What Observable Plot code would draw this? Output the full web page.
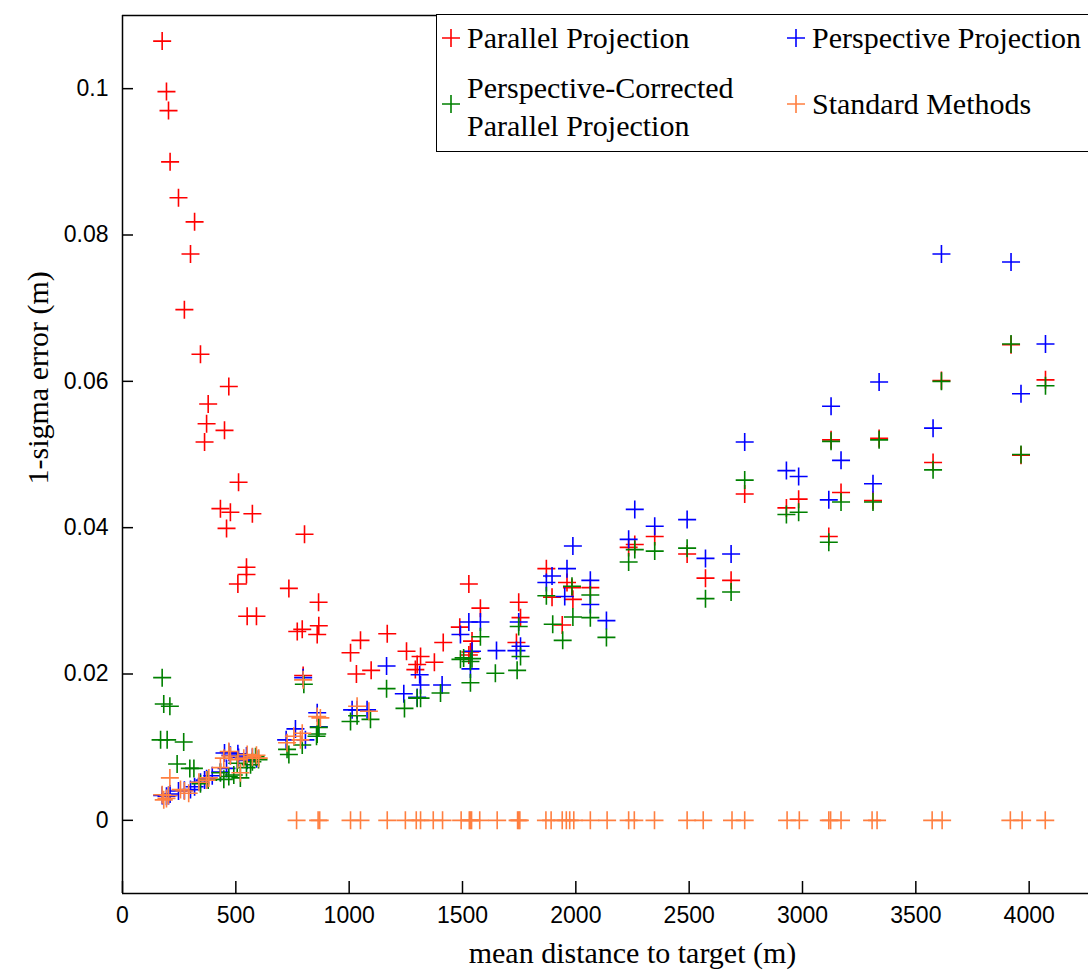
<!DOCTYPE html>
<html>
<head>
<meta charset="utf-8">
<script src="https://cdn.jsdelivr.net/npm/d3@7"></script>
<script src="https://cdn.jsdelivr.net/npm/@observablehq/plot@0.6"></script>
<style>
  body { margin: 0; background: #fff; }
  #wrap { position: relative; width: 1088px; height: 970px; overflow: hidden; background: #fff; }
  #wrap > svg { max-width: none !important; }
  #legendBox { position: absolute; left: 436px; top: 14px; width: 760px; height: 136px;
    border: 1.5px solid #000; background: #fff; }
  .lg { position: absolute; font-family: "Liberation Serif", "Times New Roman", serif; font-size: 30px;
    line-height: 38px; color: #000; white-space: nowrap; }
  .lx { position: absolute; width: 20px; height: 20px; }
</style>
</head>
<body>
<div id="wrap"></div>
<script>
// ---- data ----
const xTicks = [0, 500, 1000, 1500, 2000, 2500, 3000, 3500, 4000];
const yTicks = [0, 0.02, 0.04, 0.06, 0.08, 0.1];
const xLabel = "mean distance to target (m)";
const yLabel = "1-sigma error (m)";
const seriesNames = ["Parallel Projection", "Perspective Projection", "Perspective-Corrected Parallel Projection", "Standard Methods"];
const seriesColors = ["#ff0000", "#0000ff", "#008000", "#ff7f40"];

const parallel = [
  [175,0.1065],[194,0.0996],[203,0.0970],[210,0.0900],[247,0.0851],[318,0.0818],[300,0.0774],[273,0.0698],
  [344,0.0637],[469,0.0593],[378,0.0569],[371,0.0542],[450,0.0533],[362,0.0517],[512,0.0462],[432,0.0426],
  [476,0.0421],[573,0.0419],[459,0.0399],[803,0.0391],[547,0.0346],[547,0.0336],[509,0.0323],[734,0.0317],
  [865,0.0298],[550,0.0279],[591,0.0279],[771,0.0258],[793,0.0261],[866,0.0266],[859,0.0254],[797,0.0198],
  [1006,0.0229],[1032,0.0200],[1050,0.0246],[1097,0.0205],[1168,0.0255],[1253,0.0231],[1292,0.0206],[1300,0.0213],
  [1315,0.0224],[1376,0.0216],[1415,0.0243],[1488,0.0264],[1528,0.0323],[1528,0.0226],[1535,0.0230],[1542,0.0245],
  [1579,0.0290],[1738,0.0243],[1748,0.0298],[1756,0.0277],[1870,0.0344],[1895,0.0305],[1940,0.0267],[1961,0.0325],
  [1983,0.0318],[1987,0.0302],[2064,0.0318],[2233,0.0373],[2260,0.0377],[2348,0.0388],[2491,0.0364],[2572,0.0331],
  [2685,0.0328],[2745,0.0446],[2929,0.0427],[2983,0.0439],[3116,0.0388],[3126,0.0520],[3170,0.0448],[3311,0.0437],
  [3338,0.0522],[3576,0.0489],[3613,0.0601],[3920,0.0650],[3964,0.0499],[4072,0.0602]
];
const perspective = [
  [175,0.0034],[194,0.0033],[203,0.0034],[210,0.0036],[247,0.0040],[273,0.0041],[300,0.0042],[318,0.0046],
  [344,0.0052],[362,0.0055],[371,0.0057],[396,0.0061],[432,0.0066],[450,0.0092],[459,0.0071],[469,0.0093],
  [476,0.0089],[509,0.0091],[512,0.0086],[547,0.0088],[550,0.0082],[573,0.0086],[591,0.0084],
  [722,0.0110],[763,0.0125],[797,0.0195],[807,0.0110],[859,0.0147],[866,0.0128],[1013,0.0151],[1035,0.0151],
  [1079,0.0151],[1165,0.0211],[1241,0.0173],[1311,0.0199],[1315,0.0185],[1300,0.0168],[1410,0.0185],[1491,0.0254],
  [1528,0.0271],[1535,0.0207],[1542,0.0231],[1579,0.0271],[1650,0.0232],[1738,0.0232],[1748,0.0271],[1756,0.0238],
  [1870,0.0325],[1895,0.0334],[1951,0.0306],[1961,0.0344],[1987,0.0375],[2064,0.0328],[2064,0.0295],[2135,0.0273],
  [2233,0.0384],[2260,0.0425],[2348,0.0402],[2491,0.0411],[2572,0.0358],[2685,0.0364],[2745,0.0517],[2929,0.0478],
  [2983,0.0470],[3116,0.0438],[3126,0.0566],[3170,0.0492],[3311,0.0460],[3338,0.0599],[3576,0.0536],[3613,0.0774],
  [3920,0.0763],[3964,0.0583],[4072,0.0651]
];
const corrected = [
  [175,0.0195],[182,0.0159],[209,0.0156],[168,0.0110],[197,0.0110],[270,0.0107],[241,0.0077],[297,0.0071],[315,0.0071],
  [344,0.0050],[378,0.0055],[432,0.0065],[447,0.0056],[469,0.0060],[491,0.0062],[506,0.0078],[520,0.0058],
  [547,0.0072],[565,0.0076],[573,0.0080],[587,0.0087],[600,0.0083],
  [734,0.0090],[726,0.0097],[793,0.0103],[800,0.0186],[856,0.0115],[859,0.0118],[866,0.0127],[1006,0.0135],
  [1035,0.0143],[1094,0.0138],[1165,0.0180],[1244,0.0153],[1300,0.0167],[1315,0.0167],[1403,0.0174],[1491,0.0220],
  [1505,0.0222],[1535,0.0217],[1535,0.0188],[1542,0.0221],[1579,0.0251],[1645,0.0201],[1741,0.0205],[1748,0.0265],
  [1756,0.0224],[1870,0.0307],[1898,0.0268],[1942,0.0246],[1983,0.0320],[1987,0.0278],[2064,0.0308],[2064,0.0277],
  [2135,0.0250],[2233,0.0353],[2260,0.0370],[2348,0.0368],[2491,0.0372],[2572,0.0303],[2685,0.0312],[2745,0.0465],
  [2929,0.0418],[2983,0.0421],[3116,0.0380],[3126,0.0518],[3170,0.0435],[3311,0.0435],[3338,0.0520],[3576,0.0479],
  [3613,0.0600],[3920,0.0651],[3964,0.0500],[4072,0.0594]
];
const standard = [
  [175,0.0035],[182,0.0028],[194,0.0030],[203,0.0034],[209,0.0058],[256,0.0042],[273,0.0040],[292,0.0037],
  [337,0.0052],[371,0.0055],[381,0.0058],[432,0.0072],[447,0.0085],[469,0.0094],[476,0.0088],[509,0.0083],
  [520,0.0065],[535,0.0085],[550,0.0090],[573,0.0087],[591,0.0089],[601,0.0085],
  [726,0.0106],[756,0.0115],[785,0.0110],[793,0.0119],[797,0.0192],[859,0.0142],[873,0.0140],[1035,0.0156],[1087,0.0149],
  [768,0],[863,0],[870,0],[1006,0],[1050,0],[1168,0],[1248,0],[1296,0],[1315,0],[1371,0],[1412,0],[1494,0],
  [1530,0],[1535,0],[1540,0],[1576,0],[1653,0],[1743,0],[1748,0],[1753,0],[1868,0],[1891,0],[1940,0],[1958,0],
  [1973,0],[1991,0],[2064,0],[2138,0],[2233,0],[2258,0],[2347,0],[2491,0],[2562,0],[2689,0],[2745,0],[2932,0],
  [2986,0],[3116,0],[3124,0],[3170,0],[3307,0],[3329,0],[3572,0],[3616,0],[3917,0],[3969,0],[4071,0]
];

// ---- chart ----
const cross = {
  draw(ctx, size) {
    const r = Math.sqrt(size / Math.PI);
    ctx.moveTo(-r, 0); ctx.lineTo(r, 0);
    ctx.moveTo(0, -r); ctx.lineTo(0, r);
  }
};
const rows = (arr) => arr.map(([x, y]) => ({x, y}));
const dots = (arr, color) => Plot.dot(rows(arr), {
  x: "x", y: "y", symbol: cross, r: 9, stroke: color, fill: "none", strokeWidth: 1.6
});

const W = 1142, H = 970, ML = 122, MR = 0, MT = 15, MB = 77;
const frameW = W - ML - MR, frameH = H - MT - MB;

const chart = Plot.plot({
  width: W, height: H,
  marginLeft: ML, marginRight: MR, marginTop: MT, marginBottom: MB,
  style: { fontFamily: "Liberation Sans, Arial, sans-serif", background: "#fff", color: "#000", maxWidth: "none" },
  x: { domain: [0, 4500] },
  y: { domain: [-0.01, 0.11] },
  marks: [
    dots(parallel, seriesColors[0]),
    dots(perspective, seriesColors[1]),
    dots(corrected, seriesColors[2]),
    dots(standard, seriesColors[3]),
    Plot.axisX({ ticks: xTicks, tickSize: 0, tickPadding: 13, fontSize: 23, label: null, tickFormat: d => String(d) }),
    Plot.axisY({ ticks: yTicks, tickSize: 0, tickPadding: 14, fontSize: 23, label: null, tickFormat: d => String(d) }),
    Plot.ruleX(xTicks, { x: d => d, insetTop: frameH - 12, stroke: "#000", strokeWidth: 1.5 }),
    Plot.ruleY(yTicks, { y: d => d, insetRight: frameW - 11, stroke: "#000", strokeWidth: 1.5 }),
    Plot.ruleX([0, 4500], { stroke: "#000", strokeWidth: 1.5 }),
    Plot.ruleY([-0.01, 0.11], { stroke: "#000", strokeWidth: 1.5 }),
    Plot.text([xLabel], { text: d => d, frameAnchor: "bottom", dy: 69, lineAnchor: "bottom",
      fontFamily: "Liberation Serif", fontSize: 30, fill: "#000" }),
    Plot.text([yLabel], { text: d => d, frameAnchor: "left", dx: -84, dy: 30, rotate: -90, lineAnchor: "middle",
      fontFamily: "Liberation Serif", fontSize: 30, fill: "#000" })
  ]
});
chart.style.maxWidth = "none";
const wrap = document.getElementById("wrap");
wrap.appendChild(chart);

// ---- legend (HTML overlay in the upper right, like the original) ----
function crossSvg(color, cx, cy) {
  const s = document.createElementNS("http://www.w3.org/2000/svg", "svg");
  s.setAttribute("class", "lx");
  s.setAttribute("width", 20); s.setAttribute("height", 20);
  s.style.left = (cx - 10) + "px"; s.style.top = (cy - 10) + "px";
  s.innerHTML = `<path d="M1,10H19M10,1V19" stroke="${color}" stroke-width="1.6" fill="none"/>`;
  return s;
}
function label(html, left, top) {
  const d = document.createElement("div");
  d.className = "lg"; d.innerHTML = html;
  d.style.left = left + "px"; d.style.top = top + "px";
  return d;
}
const box = document.createElement("div");
box.id = "legendBox";
wrap.appendChild(box);
const items = [
  { i: 0, cx: 451, cy: 38, tx: 467, ty: 19, html: seriesNames[0] },
  { i: 1, cx: 796, cy: 38, tx: 812, ty: 19, html: seriesNames[1] },
  { i: 2, cx: 451, cy: 104, tx: 467, ty: 69, html: "Perspective-Corrected<br>Parallel Projection" },
  { i: 3, cx: 796, cy: 104, tx: 812, ty: 85, html: seriesNames[3] }
];
for (const it of items) {
  wrap.appendChild(crossSvg(seriesColors[it.i], it.cx, it.cy));
  wrap.appendChild(label(it.html, it.tx, it.ty));
}
</script>
</body>
</html>
